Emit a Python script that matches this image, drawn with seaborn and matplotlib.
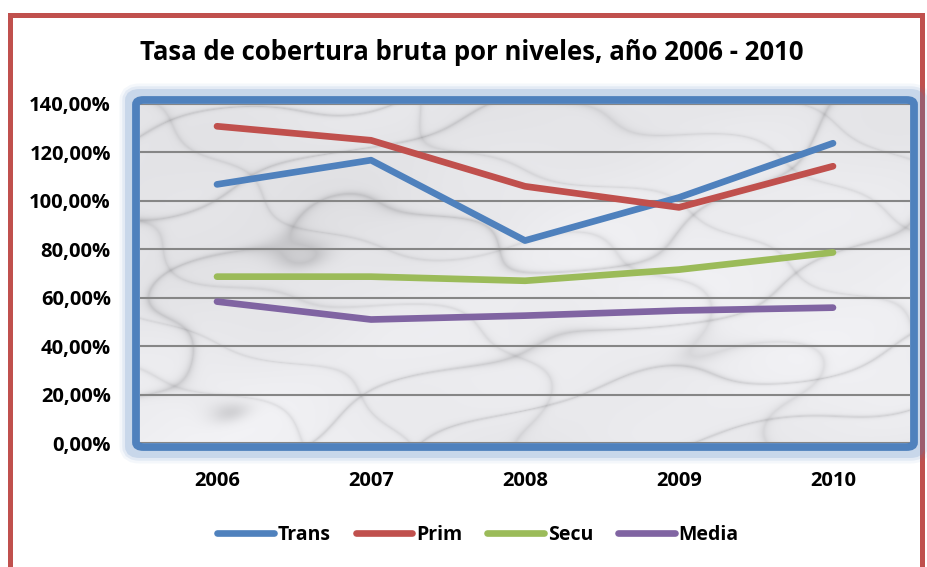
import numpy as np
import pandas as pd
import matplotlib
matplotlib.use("Agg")
import matplotlib.pyplot as plt
import seaborn as sns
from matplotlib.patches import Rectangle, FancyBboxPatch
from matplotlib.ticker import FuncFormatter, MultipleLocator

years = ["2006", "2007", "2008", "2009", "2010"]
trans = [106.8, 116.8, 83.6, 101.4, 123.8]
prim = [130.8, 125.0, 106.0, 97.3, 114.3]
secu = [68.7, 68.7, 67.0, 71.6, 78.7]
media = [58.4, 51.0, 52.6, 54.7, 55.9]

series = {"Trans": trans, "Prim": prim, "Secu": secu, "Media": media}
colors = {"Trans": "#4f81bd", "Prim": "#c0504d", "Secu": "#9bbb59", "Media": "#8064a2"}

df = pd.DataFrame([
    {"year": y, "value": v, "serie": name}
    for name, vals in series.items()
    for y, v in zip(years, vals)
])

sns.set_style("white")
plt.rcParams["font.family"] = ["Open Sans", "DejaVu Sans"]
plt.rcParams["text.color"] = "black"
plt.rcParams["xtick.color"] = "black"
plt.rcParams["ytick.color"] = "black"

W, H = 927, 567
fig = plt.figure(figsize=(W / 100, H / 100), dpi=100)

def fx(px):
    return px / W

def fy(py):
    return 1 - py / H

left, right, top, bottom = 140, 910, 104, 443
ax = fig.add_axes([fx(left), fy(bottom), fx(right - left), fy(top) - fy(bottom)])
ax.set_zorder(1)

# red outer frame of the chart
fig.patches.append(Rectangle((fx(10), fy(600)), fx(912), fy(15) - fy(600),
                             transform=fig.transFigure, fill=False,
                             edgecolor="#c0504d", linewidth=3.6, zorder=0))

# blue glow frame around the plot area
def frame(off, lw, alpha, z):
    fig.patches.append(FancyBboxPatch((fx(left - off), fy(bottom + off)),
                                      fx(right - left + 2 * off), fy(top - off) - fy(bottom + off),
                                      boxstyle="round,pad=0,rounding_size=0.008",
                                      transform=fig.transFigure, fill=False,
                                      edgecolor="#4f81bd", linewidth=lw, alpha=alpha, zorder=z))

for lw, a in [(18, 0.06), (14, 0.10), (10, 0.18)]:
    frame(8, lw, a, 0.5)
frame(4, 5.6, 1.0, 2)

# marble-like background (deterministic pattern)
gx, gy = np.meshgrid(np.linspace(0, 1, 800), np.linspace(0, 1, 360))
turb = np.zeros_like(gx)
coefs = [(2.3, 4.1, 0.4), (5.7, -3.2, 1.9), (9.3, 7.1, 2.7), (14.4, -11.6, 0.8),
         (22.2, 17.5, 4.1)]
for k, (a, b, c) in enumerate(coefs, start=1):
    turb += np.sin(a * gx + b * gy + c) / k
veins1 = np.abs(np.sin(9 * gx + 13 * gy + 2.0 * turb))
veins2 = np.abs(np.sin(12 * gx - 8 * gy + 1.6 * turb + 1.3))
blot = (turb - turb.min()) / (turb.max() - turb.min())
shade = 0.95 - 0.13 * np.exp(-veins1 / 0.09) - 0.08 * np.exp(-veins2 / 0.08) - 0.07 * blot
img = np.dstack([shade, shade, shade + 0.012]).clip(0, 1)
ax.imshow(img, extent=(-0.5, 4.5, 0, 140), aspect="auto", zorder=0, interpolation="bilinear")

sns.lineplot(data=df, x="year", y="value", hue="serie", palette=colors,
             linewidth=4.8, ax=ax, legend=False, zorder=3)
for line in ax.lines:
    line.set_solid_capstyle("round")
    line.set_solid_joinstyle("round")

ax.set_xlim(-0.5, 4.5)
ax.set_ylim(0, 140)
ax.yaxis.set_major_locator(MultipleLocator(20))
ax.yaxis.set_major_formatter(FuncFormatter(lambda v, p: f"{v:.2f}%".replace(".", ",")))
ax.grid(axis="y", color="#868686", linewidth=1.5)
ax.set_axisbelow(False)
for gl in ax.get_ygridlines():
    gl.set_zorder(1)
for s in ax.spines.values():
    s.set_visible(False)
ax.tick_params(axis="both", length=0, labelsize=14.5)
ax.tick_params(axis="y", pad=21)
ax.tick_params(axis="x", pad=20)
for lab in ax.get_xticklabels() + ax.get_yticklabels():
    lab.set_fontweight("bold")
ax.set_xlabel("")
ax.set_ylabel("")

fig.text(fx(472), fy(52), "Tasa de cobertura bruta por niveles, año 2006 - 2010",
         ha="center", va="center", fontsize=18.5, fontweight="bold")

handles = [plt.Line2D([], [], color=colors[n], linewidth=4.8, solid_capstyle="round") for n in series]
leg = fig.legend(handles, list(series), loc="center", bbox_to_anchor=(fx(478), fy(535)),
                 ncol=4, frameon=False, handlelength=2.9, handletextpad=0.2,
                 columnspacing=1.3, prop={"weight": "bold", "size": 14})

fig.savefig("out.png", dpi=100)
